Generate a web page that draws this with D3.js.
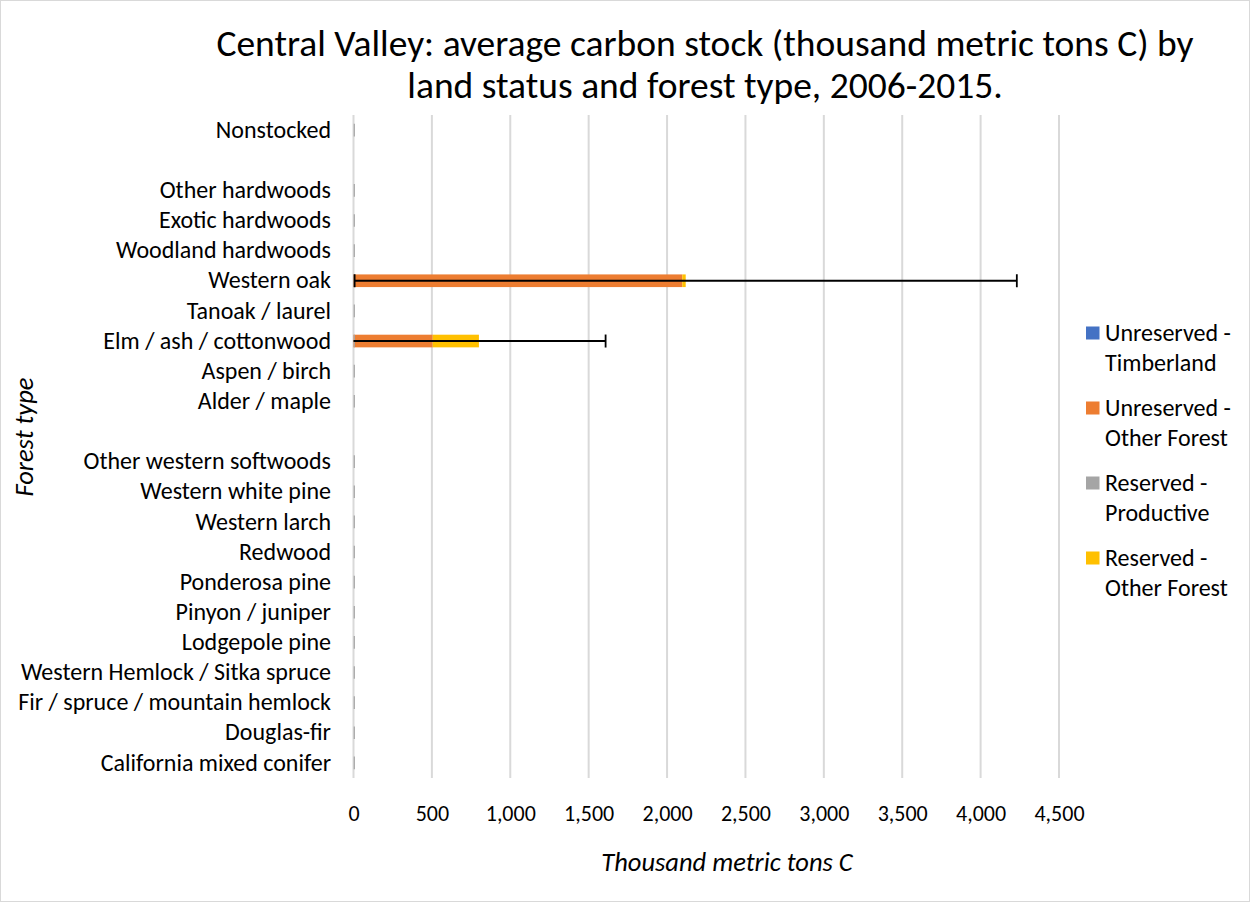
<!DOCTYPE html>
<html><head><meta charset="utf-8">
<script src="https://cdn.jsdelivr.net/npm/d3@7"></script>
<style>
body{margin:0;background:#fff;}
svg{font-family:Carlito,Calibri,Lato,sans-serif;}
</style></head>
<body><svg id="c" width="1250" height="902"></svg>
<script>
const categories = ["Nonstocked","","Other hardwoods","Exotic hardwoods","Woodland hardwoods","Western oak","Tanoak / laurel","Elm / ash / cottonwood","Aspen / birch","Alder / maple","","Other western softwoods","Western white pine","Western larch","Redwood","Ponderosa pine","Pinyon / juniper","Lodgepole pine","Western Hemlock / Sitka spruce","Fir / spruce / mountain hemlock","Douglas-fir","California mixed conifer"];
const seriesNames = ["Unreserved - Timberland","Unreserved - Other Forest","Reserved - Productive","Reserved - Other Forest"];
const seriesColors = ["#4472c4","#ed7d31","#a5a5a5","#ffc000"];
const unresTimber = [0,null,0,0,0,0,0,0,0,0,null,0,0,0,0,0,0,0,0,0,0,0];
const unresOther  = [0,null,0,0,0,2097,0,505,0,0,null,0,0,0,0,0,0,0,0,0,0,0];
const resProd     = [0,null,0,0,0,0,0,0,0,0,null,0,0,0,0,0,0,0,0,0,0,0];
const resOther    = [0,null,0,0,0,22,0,295,0,0,null,0,0,0,0,0,0,0,0,0,0,0];
const errorMargin = [0,null,0,0,0,2112,0,808,0,0,null,0,0,0,0,0,0,0,0,0,0,0];
const xTicks = [0,500,1000,1500,2000,2500,3000,3500,4000,4500];
const title = ["Central Valley: average carbon stock (thousand metric tons C) by","land status and forest type, 2006-2015."];

const svg = d3.select("#c");
svg.append("rect").attr("x",0.5).attr("y",0.5).attr("width",1249).attr("height",901).attr("fill","#fff").attr("stroke","#d9d9d9");

const x = d3.scaleLinear().domain([0,4500]).range([353.5,1059]);
const y = d3.scaleBand().domain(d3.range(categories.length)).range([115,778]).paddingInner(0.58).paddingOuter(0.29);

// gridlines
svg.append("g").selectAll("line").data(xTicks).join("line")
  .attr("x1",d=>x(d)).attr("x2",d=>x(d)).attr("y1",115).attr("y2",778)
  .attr("stroke","#d9d9d9").attr("stroke-width",2);

// stacked bars
const seriesVals = [unresTimber,unresOther,resProd,resOther];
const rows = categories.map((c,i)=>({i,vals:seriesVals.map(s=>s[i])}));
const stack = [];
rows.forEach(r=>{
  if(r.vals[0]===null) return;
  let acc=0;
  r.vals.forEach((v,k)=>{ stack.push({i:r.i,k,x0:acc,x1:acc+v}); acc+=v; });
  r.total=acc;
});
svg.append("g").selectAll("rect").data(stack.filter(d=>d.x1>d.x0)).join("rect")
  .attr("x",d=>x(d.x0)).attr("width",d=>x(d.x1)-x(d.x0))
  .attr("y",d=>y(d.i)).attr("height",y.bandwidth())
  .attr("fill",d=>seriesColors[d.k]);
// zero-value bar outlines
svg.append("g").selectAll("line").data(rows.filter(r=>r.vals[0]!==null)).join("line")
  .attr("x1",x(0)+0.8).attr("x2",x(0)+0.8).attr("y1",d=>y(d.i)).attr("y2",d=>y(d.i)+y.bandwidth())
  .attr("stroke","#a6a6a6").attr("stroke-width",1.2);

// error bars
const eb = rows.filter(r=>r.vals[0]!==null && errorMargin[r.i]>0).map(r=>({i:r.i,lo:r.total-errorMargin[r.i],hi:r.total+errorMargin[r.i]}));
const eg = svg.append("g").attr("stroke","#000").attr("stroke-width",1.8);
eb.forEach(d=>{
  const cy = y(d.i)+y.bandwidth()/2;
  const lo = Math.max(0,d.lo);
  eg.append("line").attr("x1",x(lo)).attr("x2",x(d.hi)).attr("y1",cy).attr("y2",cy);
  eg.append("line").attr("x1",x(d.hi)).attr("x2",x(d.hi)).attr("y1",cy-6.5).attr("y2",cy+6.5);
  if(d.lo>=0) eg.append("line").attr("x1",x(d.lo)).attr("x2",x(d.lo)).attr("y1",cy-6.5).attr("y2",cy+6.5);
});

// x axis labels
const xa = d3.axisBottom(x).tickValues(xTicks).tickSize(0).tickPadding(0).tickFormat(d3.format(","));
const gx = svg.append("g").attr("transform","translate(0,805)").call(xa);
gx.select(".domain").remove();
gx.selectAll("text").attr("font-size",22).attr("fill","#000").attr("font-family","Carlito,Calibri,Lato,sans-serif");

// y axis labels
const ya = d3.axisLeft(y).tickSize(0).tickPadding(0).tickFormat(i=>categories[i]);
const gy = svg.append("g").attr("transform","translate(331,0)").call(ya);
gy.select(".domain").remove();
gy.selectAll("text").attr("font-size",24).attr("fill","#000").attr("font-family","Carlito,Calibri,Lato,sans-serif");

// title
svg.append("g").selectAll("text").data(title).join("text")
  .attr("x",705).attr("y",(d,i)=>56+i*42).attr("text-anchor","middle")
  .attr("font-size",37.5).attr("fill","#000").text(d=>d);

// axis titles
svg.append("text").attr("x",727).attr("y",871).attr("text-anchor","middle").attr("font-size",26.5).attr("font-style","italic").text("Thousand metric tons C");
svg.append("text").attr("transform","translate(33,437) rotate(-90)").attr("text-anchor","middle").attr("font-size",26.5).attr("font-style","italic").text("Forest type");

// legend
const leg = svg.append("g");
const legY = [333,408,483,558];
seriesNames.forEach((n,k)=>{
  const g = leg.append("g").attr("transform",`translate(1086,${legY[k]})`);
  g.append("rect").attr("x",0).attr("y",-6.5).attr("width",13.5).attr("height",13).attr("fill",seriesColors[k]);
  const parts = n.split(" - ");
  g.append("text").attr("x",19).attr("y",7.5).attr("font-size",24).text(parts[0]+" -");
  g.append("text").attr("x",19).attr("y",37.5).attr("font-size",24).text(parts[1]);
});
</script></body></html>
